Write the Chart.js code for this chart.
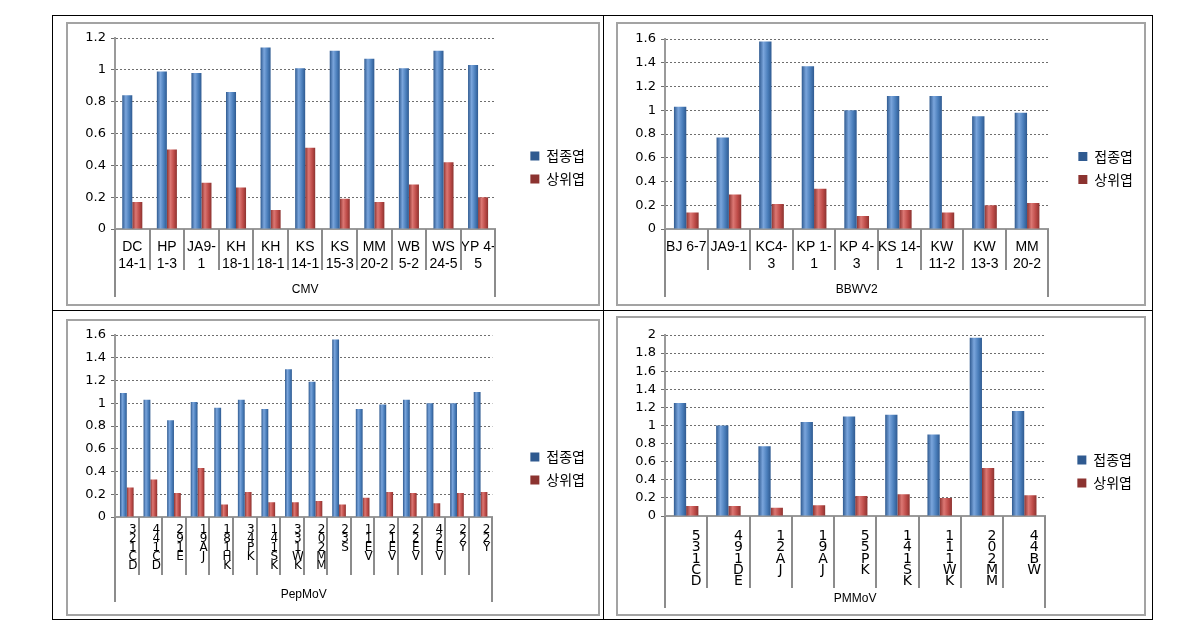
<!DOCTYPE html>
<html><head><meta charset="utf-8">
<script src="https://cdn.jsdelivr.net/npm/chart.js@4.4.0/dist/chart.umd.min.js"></script>
<style>
html,body{margin:0;padding:0;background:#fff;width:1190px;height:633px;overflow:hidden;}
.ln{position:absolute;background:#000;}
.frame{position:absolute;box-sizing:border-box;border:2px solid #a3a3a3;pointer-events:none;}
canvas{position:absolute;}
</style></head><body>
<canvas id="c1" width="533" height="283" style="left:66px;top:22px"></canvas>
<canvas id="c2" width="529" height="283" style="left:616px;top:22px"></canvas>
<canvas id="c3" width="533" height="296" style="left:66px;top:319px"></canvas>
<canvas id="c4" width="529" height="299" style="left:616px;top:316px"></canvas>
<div class="frame" style="left:66px;top:22px;width:534px;height:284px"></div>
<div class="frame" style="left:616px;top:22px;width:530px;height:284px"></div>
<div class="frame" style="left:66px;top:319px;width:534px;height:297px"></div>
<div class="frame" style="left:616px;top:316px;width:530px;height:300px"></div>
<div class="ln" style="left:52px;top:15px;width:1101px;height:1px"></div>
<div class="ln" style="left:52px;top:619px;width:1101px;height:1px"></div>
<div class="ln" style="left:52px;top:310px;width:1101px;height:1px"></div>
<div class="ln" style="left:52px;top:15px;width:1px;height:605px"></div>
<div class="ln" style="left:603px;top:15px;width:1px;height:605px"></div>
<div class="ln" style="left:1152px;top:15px;width:1px;height:605px"></div>
<script>
// ---------- data ----------
const seriesNames = ['접종엽', '상위엽'];

const cmvLabels = [['DC','14-1'],['HP','1-3'],['JA9-','1'],['KH','18-1'],['KH','18-1'],['KS','14-1'],['KS','15-3'],['MM','20-2'],['WB','5-2'],['WS','24-5'],['YP 4-','5']];
const cmvInoculated = [0.84, 0.99, 0.98, 0.86, 1.14, 1.01, 1.12, 1.07, 1.01, 1.12, 1.03];
const cmvUpper      = [0.17, 0.50, 0.29, 0.26, 0.12, 0.51, 0.19, 0.17, 0.28, 0.42, 0.20];

const bbwvLabels = [['BJ 6-7'],['JA9-1'],['KC4-','3'],['KP 1-','1'],['KP 4-','3'],['KS 14-','1'],['KW','11-2'],['KW','13-3'],['MM','20-2']];
const bbwvInoculated = [1.03, 0.77, 1.58, 1.37, 1.00, 1.12, 1.12, 0.95, 0.98];
const bbwvUpper      = [0.14, 0.29, 0.21, 0.34, 0.11, 0.16, 0.14, 0.20, 0.22];

const pepLabels = [['3','2','1','C','D'],['4','4','1','C','D'],['2','9','1','E'],['1','9','A','J'],['1','8','1','H','K'],['3','4','P','K'],['1','4','1','S','K'],['3','3','1','W','K'],['2','0','2','M','M'],['2','3','S'],['1','1','E','V'],['2','1','E','V'],['2','2','E','V'],['4','2','E','V'],['2','2','Y'],['2','2','Y']];
const pepInoculated = [1.09, 1.03, 0.85, 1.01, 0.96, 1.03, 0.95, 1.30, 1.19, 1.56, 0.95, 0.99, 1.03, 1.00, 1.00, 1.10];
const pepUpper      = [0.26, 0.33, 0.21, 0.43, 0.11, 0.22, 0.13, 0.13, 0.14, 0.11, 0.17, 0.22, 0.21, 0.12, 0.21, 0.22];

const pmmLabels = [['5','3','1','C','D'],['4','9','1','D','E'],['1','2','A','J'],['1','9','A','J'],['5','5','P','K'],['1','4','1','S','K'],['1','1','1','W','K'],['2','0','2','M','M'],['4','4','B','W']];
const pmmInoculated = [1.25, 1.00, 0.77, 1.04, 1.10, 1.12, 0.90, 1.97, 1.16];
const pmmUpper      = [0.11, 0.11, 0.09, 0.12, 0.22, 0.24, 0.20, 0.53, 0.23];

// ---------- drawing ----------
const CAT_PCT = 0.58;
function cyl(base, light, dark) {
  return function(ctx) {
    if (ctx.type !== 'data') return base;
    const chart = ctx.chart, xs = chart.scales.x;
    if (!xs || !(xs.width > 0)) return base;
    const n = chart.data.labels.length;
    const group = (xs.width / n) * CAT_PCT;
    const bw = group / 2;
    const cx = xs.getPixelForValue(ctx.dataIndex);
    const x0 = cx - group / 2 + ctx.datasetIndex * bw;
    const g = chart.ctx.createLinearGradient(x0, 0, x0 + bw, 0);
    g.addColorStop(0, dark); g.addColorStop(0.35, light); g.addColorStop(0.7, base); g.addColorStop(1, dark);
    return g;
  };
}

const separators = {
  id: 'separators',
  afterDraw(chart, args, opts) {
    const xs = chart.scales.x, ctx = chart.ctx, n = chart.data.labels.length;
    const y0 = chart.chartArea.bottom;
    ctx.save();
    ctx.strokeStyle = '#8c8c8c'; ctx.lineWidth = 2;
    for (let i = 0; i <= n; i++) {
      const x = Math.round(xs.getPixelForValue(i - 0.5));
      const len = (i === 0 || i === n) ? opts.outer : opts.inner;
      ctx.beginPath(); ctx.moveTo(x, y0); ctx.lineTo(x, y0 + len); ctx.stroke();
    }
    ctx.restore();
  }
};

function make(id, labels, blue, red, g) {
  new Chart(document.getElementById(id), {
    type: 'bar',
    data: {
      labels: labels,
      datasets: [
        { label: seriesNames[0], data: blue, backgroundColor: cyl('#4a7ebb', '#7aa5dc', '#2f5a90'), borderWidth: 0 },
        { label: seriesNames[1], data: red,  backgroundColor: cyl('#be4b48', '#dc7773', '#8c3330'), borderWidth: 0 }
      ]
    },
    plugins: [separators],
    options: {
      responsive: false,
      animation: false,
      layout: { padding: g.pad },
      datasets: { bar: { categoryPercentage: CAT_PCT, barPercentage: 1.0 } },
      plugins: {
        tooltip: { enabled: false },
        separators: { inner: g.inner, outer: g.outer },
        legend: {
          position: 'right',
          labels: {
            boxWidth: 9, boxHeight: 9, padding: 9, color: '#000',
            font: { family: '"Noto Sans CJK KR", sans-serif', size: 14 }
          }
        }
      },
      scales: {
        x: {
          grid: { display: false },
          border: { display: true, color: '#9a9a9a', width: 2 },
          ticks: {
            autoSkip: false, maxRotation: 0, minRotation: 0, color: '#000',
            padding: g.tickPad, labelOffset: g.labelOffset,
            font: { family: g.labelFamily, size: g.labelSize, lineHeight: g.labelLH }
          },
          title: { display: true, text: g.title, color: '#000', padding: { top: 0, bottom: g.titleBottom },
                   font: { family: '"Liberation Sans", sans-serif', size: 12 } },
          afterFit: s => { s.height = g.xHeight; }
        },
        y: {
          min: 0, max: g.max,
          ticks: { stepSize: 0.2, autoSkip: false, color: '#000', padding: 5,
                   font: { family: '"DejaVu Sans", sans-serif', size: 13 },
                   callback: v => String(Math.round(v * 10) / 10) },
          grid: { color: '#6e6e6e', lineWidth: 1, tickLength: 4, drawTicks: true },
          border: { display: true, color: '#9a9a9a', width: 2, dash: [2, 2] },
          afterFit: s => { s.width = g.yWidth; }
        },
        spacer: {
          type: 'linear', position: 'right', display: true,
          grid: { display: false }, ticks: { display: false }, border: { display: false },
          afterFit: s => { s.width = g.spacer; }
        }
      }
    }
  });
}

make('c1', cmvLabels, cmvInoculated, cmvUpper, {
  pad: { left: 10, top: 16, right: 4, bottom: 8 }, yWidth: 39, xHeight: 68, spacer: 26, max: 1.2,
  inner: 41, outer: 68, tickPad: 2, labelOffset: 0, labelFamily: '"Liberation Sans", sans-serif', labelSize: 14, labelLH: 1.2,
  title: 'CMV', titleBottom: 0
});
make('c2', bbwvLabels, bbwvInoculated, bbwvUpper, {
  pad: { left: 10, top: 17, right: 2, bottom: 8 }, yWidth: 39, xHeight: 68, spacer: 21, max: 1.6,
  inner: 41, outer: 68, tickPad: 2, labelOffset: 0, labelFamily: '"Liberation Sans", sans-serif', labelSize: 14, labelLH: 1.2,
  title: 'BBWV2', titleBottom: 0
});
make('c3', pepLabels, pepInoculated, pepUpper, {
  pad: { left: 10, top: 16, right: 4, bottom: 13 }, yWidth: 39, xHeight: 85, spacer: 29, max: 1.6,
  inner: 58, outer: 85, tickPad: 0, labelOffset: 6, labelFamily: '"DejaVu Sans", sans-serif', labelSize: 12, labelLH: 0.75,
  title: 'PepMoV', titleBottom: 0
});
make('c4', pmmLabels, pmmInoculated, pmmUpper, {
  pad: { left: 10, top: 19, right: 3, bottom: 7 }, yWidth: 39, xHeight: 92, spacer: 23, max: 2,
  inner: 72, outer: 92, tickPad: 7, labelOffset: 10, labelFamily: '"DejaVu Sans", sans-serif', labelSize: 14, labelLH: 0.8,
  title: 'PMMoV', titleBottom: 2
});
</script>
</body></html>
